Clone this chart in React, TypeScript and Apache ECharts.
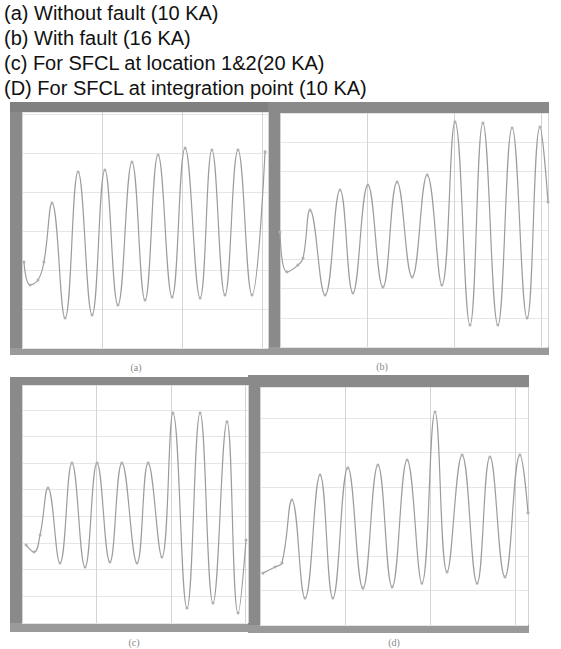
import React, { useEffect, useRef } from "react";
import * as echarts from "echarts";

// Title lines
const titleLines = [
  "(a) Without fault (10 KA)",
  "(b) With fault (16 KA)",
  "(c) For SFCL at location 1&2(20 KA)",
  "(D) For SFCL at integration point (10 KA)",
];

// Panel captions
const captions = ["(a)", "(b)", "(c)", "(d)"];

// Waveform samples (x: % of time window, y: % of plot height)
const aTime = [0.8, 3.3, 6.5, 8.9, 12.2, 17.5, 22.8, 28.5, 33.7, 39.0, 44.7, 50.0, 55.3, 61.0, 66.3, 72.4, 77.2, 82.5, 87.8, 93.5, 98.8];
const aValue = [36.4, 26.7, 28.8, 36.4, 61.4, 12.7, 74.6, 14.0, 75.4, 18.2, 78.8, 20.3, 81.8, 21.6, 84.7, 21.2, 83.9, 22.5, 83.9, 22.5, 83.1];

const bTime = [0, 2.6, 6.7, 8.6, 11.2, 16.8, 22.4, 27.2, 32.8, 38.4, 43.7, 49.3, 54.9, 60.4, 65.3, 70.9, 75.7, 81.3, 86.6, 92.2, 97.0, 100];
const bValue = [49.1, 32.1, 35.0, 38.0, 58.5, 22.2, 67.1, 23.1, 69.2, 25.6, 70.5, 29.9, 73.5, 26.5, 96.2, 9.4, 95.7, 9.4, 93.6, 12.4, 94.0, 62.0];

const cTime = [1.8, 5.3, 8.0, 11.5, 16.8, 22.1, 27.9, 33.2, 38.9, 44.2, 50.9, 55.8, 61.9, 66.8, 73.0, 78.8, 84.5, 90.7, 95.6, 99.1];
const cValue = [32.8, 29.8, 37.0, 56.7, 25.2, 67.2, 23.5, 67.2, 25.6, 67.2, 25.2, 67.2, 27.7, 88.2, 6.3, 88.2, 8.4, 84.5, 4.2, 34.9];

const dTime = [1.1, 5.6, 8.2, 11.9, 16.8, 22.4, 27.2, 32.8, 38.4, 44.0, 49.3, 54.9, 60.4, 65.3, 69.8, 75.4, 81.0, 85.8, 91.4, 97.0, 100];
const dValue = [21.8, 24.4, 26.1, 52.5, 11.3, 63.0, 11.3, 66.0, 15.5, 67.2, 16.0, 69.3, 17.6, 89.5, 22.3, 71.4, 17.6, 70.6, 20.2, 71.4, 47.1];

const series = [
  { t: aTime, v: aValue },
  { t: bTime, v: bValue },
  { t: cTime, v: cValue },
  { t: dTime, v: dValue },
];

// axis grid spacing per panel
const xIntervals = [32.5, 32.5, 33, 31.7];
const yIntervals = [16.5, 12.5, 11.2, 14.5];

export default function App() {
  const ref = useRef<HTMLDivElement>(null);
  useEffect(() => {
    if (!ref.current) return;
    const chart = echarts.init(ref.current, null, { renderer: "svg" });

    const grids = [
      { left: 22, top: 112, width: 246, height: 236 },
      { left: 280, top: 113, width: 268, height: 234 },
      { left: 22, top: 385, width: 226, height: 238 },
      { left: 260, top: 387, width: 268, height: 238 },
    ];

    const frameColor = "#8a8a8a";
    const bottomColor = "#9a9a9a";
    const bars = [
      // panel a
      { x: 10, y: 102, w: 12, h: 253, c: frameColor },
      { x: 10, y: 102, w: 270, h: 10, c: "#808080" },
      { x: 10, y: 348, w: 270, h: 7, c: bottomColor },
      // panel b
      { x: 268, y: 102, w: 12, h: 253, c: frameColor },
      { x: 268, y: 102, w: 281, h: 11, c: frameColor },
      { x: 268, y: 347, w: 281, h: 8, c: bottomColor },
      // panel c
      { x: 10, y: 377, w: 12, h: 255, c: frameColor },
      { x: 10, y: 377, w: 250, h: 8, c: frameColor },
      { x: 10, y: 623, w: 250, h: 9, c: bottomColor },
      // panel d
      { x: 248, y: 375, w: 12, h: 258, c: frameColor },
      { x: 248, y: 375, w: 281, h: 12, c: frameColor },
      { x: 248, y: 625, w: 281, h: 8, c: bottomColor },
    ];

    const captionPos = [
      [136, 367],
      [382, 366],
      [134, 642],
      [394, 642],
    ];

    const graphic: any[] = [];
    titleLines.forEach((line, i) => {
      graphic.push({
        type: "text",
        left: 4,
        top: 3 + i * 25,
        style: {
          text: line,
          fill: "#111",
          font: "20px 'Liberation Sans', Arial, sans-serif",
        },
      });
    });
    bars.forEach((b) => {
      graphic.push({
        type: "rect",
        shape: { x: b.x, y: b.y, width: b.w, height: b.h },
        style: { fill: b.c },
        silent: true,
      });
    });
    captions.forEach((c, i) => {
      graphic.push({
        type: "text",
        x: captionPos[i][0],
        y: captionPos[i][1],
        style: {
          text: c,
          fill: "#888",
          font: "10px 'Liberation Serif', serif",
          textAlign: "center",
          textVerticalAlign: "middle",
        },
      });
    });

    chart.setOption({
      animation: false,
      backgroundColor: "#fff",
      grid: grids.map((g) => ({ ...g, containLabel: false })),
      xAxis: grids.map((_, i) => ({
        type: "value",
        gridIndex: i,
        min: 0,
        max: 100,
        interval: xIntervals[i],
        axisLabel: { show: false },
        axisLine: { show: false },
        axisTick: { show: false },
        splitLine: { show: true, lineStyle: { color: "#d4d4d4", width: 1 } },
      })),
      yAxis: grids.map((_, i) => ({
        type: "value",
        gridIndex: i,
        min: 0,
        max: 100,
        interval: yIntervals[i],
        axisLabel: { show: false },
        axisLine: { show: false },
        axisTick: { show: false },
        splitLine: { show: true, lineStyle: { color: "#e6e6e6", width: 1 } },
      })),
      series: series.map((s, i) => ({
        type: "line",
        xAxisIndex: i,
        yAxisIndex: i,
        data: s.t.map((t, k) => [t, s.v[k]]),
        smooth: 0.45,
        showSymbol: true,
        symbol: "circle",
        symbolSize: 3,
        itemStyle: { color: "#b0b0b0" },
        lineStyle: { color: "#9c9c9c", width: 1.2 },
        clip: true,
      })),
      graphic,
    });

    return () => chart.dispose();
  }, []);

  return (
    <div
      ref={ref}
      style={{ position: "absolute", left: 0, top: 0, width: 561, height: 649 }}
    />
  );
}
